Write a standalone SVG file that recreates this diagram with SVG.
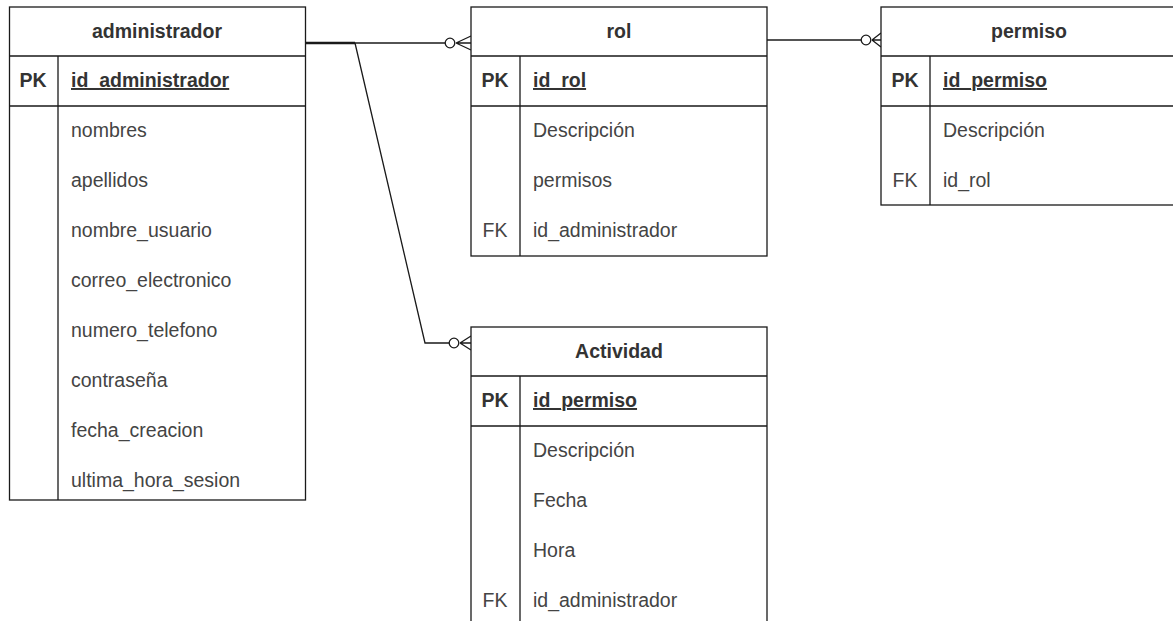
<svg xmlns="http://www.w3.org/2000/svg" width="1173" height="621" viewBox="0 0 1173 621">
<style>
.box{fill:#fff;stroke:#1a1a1a;stroke-width:1.3}
.ln{stroke:#1a1a1a;stroke-width:1.3;fill:none}
.t{font-family:"Liberation Sans",Arial,sans-serif;font-size:19.5px;fill:#444}
.h{font-family:"Liberation Sans",Arial,sans-serif;font-size:19.5px;fill:#333;font-weight:bold;text-anchor:middle}
.k{font-family:"Liberation Sans",Arial,sans-serif;font-size:19.5px;fill:#333;font-weight:bold;text-anchor:middle}
.kf{font-family:"Liberation Sans",Arial,sans-serif;font-size:19.5px;fill:#444;text-anchor:middle}
.u{text-decoration:underline;font-weight:bold;fill:#333}
.c{fill:#fff;stroke:#1a1a1a;stroke-width:1.3}
</style>
<rect width="1173" height="621" fill="#fff"/>
<g id="connectors">
<path class="ln" d="M305 43 L355 43" style="stroke-width:2.5"/>
<path class="ln" d="M355 43 L445 43"/>
<path class="ln" d="M355 43 L425 343 L449 343"/>
<path class="ln" d="M767 40 L861 40"/>
<circle class="c" cx="450" cy="43" r="4.8"/>
<path class="ln" d="M456 43 L471 36 M456 43 L471 43 M456 43 L471 50"/>
<circle class="c" cx="454" cy="343" r="4.8"/>
<path class="ln" d="M460 343 L471 336 M460 343 L471 343 M460 343 L471 350"/>
<circle class="c" cx="866" cy="40" r="4.8"/>
<path class="ln" d="M872 40 L881 33 M872 40 L881 40 M872 40 L881 47"/>
</g>
<g id="administrador">
<rect class="box" x="9.5" y="7" width="296" height="493"/>
<path class="ln" d="M9.5 56 H305.5 M9.5 106 H305.5 M58 56 V500"/>
<text class="h" x="157" y="38">administrador</text>
<text class="k" x="33" y="87">PK</text>
<text class="t u" x="71" y="87">id_administrador</text>
<text class="t" x="71" y="137">nombres</text>
<text class="t" x="71" y="187">apellidos</text>
<text class="t" x="71" y="237">nombre_usuario</text>
<text class="t" x="71" y="287">correo_electronico</text>
<text class="t" x="71" y="337">numero_telefono</text>
<text class="t" x="71" y="387">contraseña</text>
<text class="t" x="71" y="437">fecha_creacion</text>
<text class="t" x="71" y="487">ultima_hora_sesion</text>
</g>
<g id="rol">
<rect class="box" x="471" y="7" width="296" height="249"/>
<path class="ln" d="M471 56 H767 M471 106 H767 M520 56 V256"/>
<text class="h" x="619" y="38">rol</text>
<text class="k" x="495" y="87">PK</text>
<text class="t u" x="533" y="87">id_rol</text>
<text class="t" x="533" y="137">Descripción</text>
<text class="t" x="533" y="187">permisos</text>
<text class="kf" x="495" y="237">FK</text>
<text class="t" x="533" y="237">id_administrador</text>
</g>
<g id="permiso">
<rect class="box" x="881" y="7" width="296" height="198"/>
<path class="ln" d="M881 56 H1177 M881 106 H1177 M930 56 V205"/>
<text class="h" x="1029" y="38">permiso</text>
<text class="k" x="905" y="87">PK</text>
<text class="t u" x="943" y="87">id_permiso</text>
<text class="t" x="943" y="137">Descripción</text>
<text class="kf" x="905" y="187">FK</text>
<text class="t" x="943" y="187">id_rol</text>
</g>
<g id="actividad">
<rect class="box" x="471" y="327" width="296" height="310"/>
<path class="ln" d="M471 376 H767 M471 426 H767 M520 376 V637"/>
<text class="h" x="619" y="358">Actividad</text>
<text class="k" x="495" y="407">PK</text>
<text class="t u" x="533" y="407">id_permiso</text>
<text class="t" x="533" y="457">Descripción</text>
<text class="t" x="533" y="507">Fecha</text>
<text class="t" x="533" y="557">Hora</text>
<text class="kf" x="495" y="607">FK</text>
<text class="t" x="533" y="607">id_administrador</text>
</g>
</svg>
